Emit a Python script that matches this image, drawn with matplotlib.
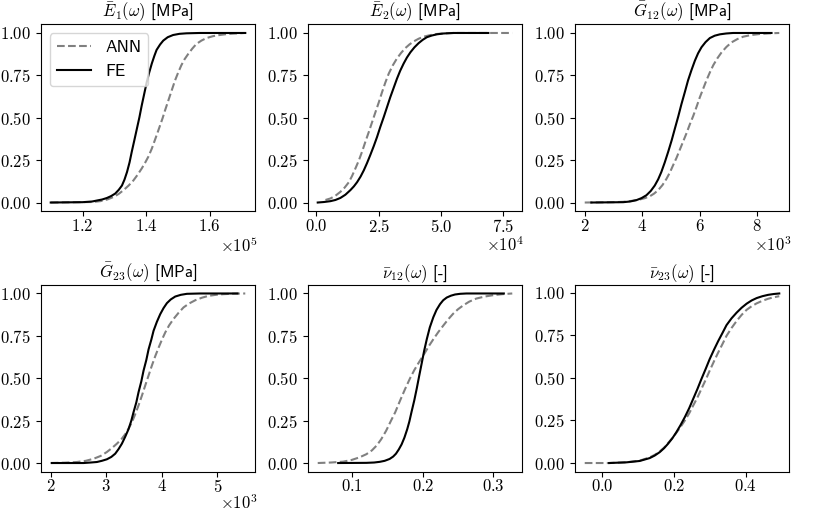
import numpy as np
import matplotlib
matplotlib.use('Agg')
import matplotlib.pyplot as plt
from matplotlib.ticker import ScalarFormatter

# ---------------- data ----------------
# E1 (x in units of 1e5 MPa)
E1_fe_x = [1.100, 1.200, 1.230, 1.246, 1.262, 1.277, 1.290, 1.303, 1.314, 1.324, 1.332, 1.340, 1.348, 1.355,
           1.363, 1.371, 1.379, 1.386, 1.394, 1.402, 1.410, 1.418, 1.426, 1.433, 1.444, 1.454, 1.468, 1.485,
           1.505, 1.527, 1.569, 1.712]
E1_fe_y = [0.000, 0.002, 0.006, 0.012, 0.018, 0.027, 0.038, 0.053, 0.075, 0.100, 0.135, 0.180, 0.237, 0.300,
           0.367, 0.435, 0.503, 0.570, 0.640, 0.710, 0.768, 0.820, 0.865, 0.900, 0.932, 0.955, 0.975, 0.988,
           0.995, 0.998, 1.000, 1.000]
E1_ann_x = [1.100, 1.230, 1.256, 1.278, 1.298, 1.314, 1.329, 1.345, 1.360, 1.373, 1.386, 1.397, 1.407, 1.418,
            1.428, 1.436, 1.444, 1.452, 1.459, 1.467, 1.475, 1.483, 1.491, 1.501, 1.511, 1.521, 1.532, 1.545,
            1.558, 1.574, 1.590, 1.610, 1.631, 1.652, 1.673, 1.709]
E1_ann_y = [0.000, 0.003, 0.008, 0.018, 0.033, 0.051, 0.073, 0.100, 0.130, 0.163, 0.200, 0.235, 0.270, 0.318,
            0.370, 0.412, 0.455, 0.498, 0.540, 0.585, 0.630, 0.675, 0.720, 0.767, 0.810, 0.845, 0.875, 0.907,
            0.935, 0.955, 0.970, 0.981, 0.988, 0.993, 0.996, 1.000]

# E2 (x in units of 1e4 MPa)
E2_fe_x = [0.05, 0.30, 0.56, 0.76, 0.96, 1.16, 1.36, 1.50, 1.63, 1.77, 1.90, 2.03, 2.16, 2.30, 2.43, 2.56, 2.70,
           2.83, 2.96, 3.10, 3.23, 3.36, 3.50, 3.63, 3.77, 3.93, 4.10, 4.26, 4.43, 4.63, 4.83, 5.10, 5.50, 6.90]
E2_fe_y = [0.000, 0.003, 0.008, 0.015, 0.027, 0.046, 0.073, 0.095, 0.120, 0.153, 0.190, 0.233, 0.280, 0.333,
           0.386, 0.445, 0.504, 0.562, 0.620, 0.677, 0.730, 0.777, 0.820, 0.855, 0.886, 0.915, 0.940, 0.959,
           0.975, 0.985, 0.992, 0.997, 1.000, 1.000]
E2_ann_x = [0.36, 0.56, 0.76, 0.96, 1.13, 1.30, 1.43, 1.56, 1.70, 1.83, 1.96, 2.10, 2.23, 2.36, 2.50, 2.63, 2.76,
            2.90, 3.06, 3.23, 3.40, 3.56, 3.73, 3.90, 4.10, 4.30, 4.55, 4.83, 5.15, 5.50, 7.86]
E2_ann_y = [0.015, 0.024, 0.040, 0.063, 0.088, 0.120, 0.157, 0.200, 0.248, 0.300, 0.357, 0.416, 0.473, 0.530,
            0.590, 0.650, 0.706, 0.760, 0.808, 0.850, 0.883, 0.910, 0.932, 0.950, 0.966, 0.978, 0.987, 0.994,
            0.998, 1.000, 1.000]

# G12 (x in units of 1e3 MPa)
G12_fe_x = [2.23, 3.34, 3.58, 3.80, 3.98, 4.15, 4.30, 4.44, 4.56, 4.67, 4.79, 4.91, 5.03, 5.14, 5.26, 5.37, 5.49,
            5.60, 5.72, 5.84, 5.95, 6.07, 6.21, 6.36, 6.53, 6.71, 6.93, 7.17, 8.51]
G12_fe_y = [0.000, 0.002, 0.006, 0.014, 0.026, 0.043, 0.068, 0.100, 0.137, 0.180, 0.237, 0.300, 0.367, 0.435,
            0.508, 0.580, 0.652, 0.720, 0.781, 0.837, 0.880, 0.916, 0.946, 0.970, 0.984, 0.992, 0.997, 1.000,
            1.000]
G12_ann_x = [2.00, 3.00, 3.34, 3.65, 3.92, 4.10, 4.27, 4.42, 4.56, 4.71, 4.85, 4.97, 5.08, 5.20, 5.31, 5.43, 5.55,
             5.66, 5.78, 5.90, 6.01, 6.13, 6.24, 6.36, 6.48, 6.62, 6.77, 6.94, 7.12, 7.32, 7.52, 7.80, 8.10, 8.45,
             8.78]
G12_ann_y = [0.000, 0.002, 0.004, 0.010, 0.018, 0.026, 0.037, 0.053, 0.073, 0.103, 0.140, 0.178, 0.220, 0.264,
             0.310, 0.360, 0.410, 0.460, 0.510, 0.566, 0.620, 0.672, 0.720, 0.767, 0.810, 0.850, 0.886, 0.918,
             0.945, 0.964, 0.978, 0.988, 0.994, 0.998, 1.000]

# G23 (x in units of 1e3 MPa)
G23_fe_x = [2.02, 2.59, 2.72, 2.83, 2.92, 3.01, 3.09, 3.16, 3.22, 3.28, 3.34, 3.40, 3.45, 3.49, 3.54, 3.58, 3.63,
            3.67, 3.72, 3.76, 3.81, 3.85, 3.91, 3.97, 4.03, 4.09, 4.16, 4.24, 4.34, 4.45, 4.69, 5.36]
G23_fe_y = [0.000, 0.000, 0.003, 0.006, 0.013, 0.022, 0.036, 0.055, 0.082, 0.114, 0.155, 0.200, 0.250, 0.300,
            0.358, 0.418, 0.482, 0.545, 0.608, 0.670, 0.728, 0.780, 0.833, 0.878, 0.914, 0.943, 0.965, 0.982,
            0.992, 0.998, 1.000, 1.000]
G23_ann_x = [2.00, 2.25, 2.47, 2.63, 2.77, 2.90, 3.01, 3.10, 3.19, 3.27, 3.34, 3.40, 3.46, 3.52, 3.58, 3.64, 3.70,
             3.76, 3.82, 3.88, 3.94, 4.00, 4.06, 4.13, 4.21, 4.30, 4.39, 4.49, 4.60, 4.72, 4.84, 4.97, 5.11, 5.30,
             5.50]
G23_ann_y = [0.000, 0.002, 0.006, 0.013, 0.025, 0.042, 0.065, 0.088, 0.114, 0.140, 0.170, 0.203, 0.240, 0.288,
             0.340, 0.397, 0.457, 0.516, 0.575, 0.630, 0.680, 0.727, 0.770, 0.812, 0.850, 0.886, 0.918, 0.941,
             0.960, 0.975, 0.986, 0.992, 0.996, 0.999, 1.000]

# nu12 (dimensionless)
nu12_fe_x = [0.080, 0.120, 0.131, 0.139, 0.146, 0.153, 0.158, 0.162, 0.166, 0.170, 0.174, 0.178, 0.181, 0.184,
             0.188, 0.1915, 0.195, 0.1986, 0.202, 0.2057, 0.210, 0.215, 0.2195, 0.2245, 0.229, 0.234, 0.240,
             0.2458, 0.253, 0.262, 0.315]
nu12_fe_y = [0.000, 0.001, 0.003, 0.007, 0.013, 0.024, 0.038, 0.055, 0.080, 0.110, 0.150, 0.200, 0.245, 0.300,
             0.370, 0.440, 0.515, 0.590, 0.662, 0.730, 0.800, 0.860, 0.903, 0.937, 0.960, 0.976, 0.987, 0.994,
             0.998, 1.000, 1.000]
nu12_ann_x = [0.051, 0.070, 0.087, 0.099, 0.110, 0.120, 0.128, 0.135, 0.141, 0.148, 0.155, 0.161, 0.168, 0.175,
              0.182, 0.188, 0.194, 0.203, 0.209, 0.215, 0.222, 0.229, 0.236, 0.243, 0.250, 0.2575, 0.266, 0.276,
              0.288, 0.300, 0.313, 0.327]
nu12_ann_y = [0.000, 0.003, 0.008, 0.018, 0.033, 0.052, 0.075, 0.105, 0.140, 0.190, 0.250, 0.300, 0.370, 0.437,
              0.500, 0.548, 0.590, 0.650, 0.692, 0.730, 0.772, 0.810, 0.847, 0.880, 0.907, 0.930, 0.952, 0.970,
              0.982, 0.990, 0.996, 1.000]

# nu23 (dimensionless)
nu23_fe_x = [0.020, 0.068, 0.105, 0.133, 0.147, 0.161, 0.173, 0.184, 0.196, 0.207, 0.219, 0.231, 0.243, 0.254,
             0.266, 0.277, 0.289, 0.300, 0.312, 0.324, 0.336, 0.347, 0.361, 0.375, 0.389, 0.403, 0.417, 0.431,
             0.447, 0.463, 0.479, 0.494]
nu23_fe_y = [0.000, 0.004, 0.012, 0.029, 0.044, 0.064, 0.087, 0.113, 0.145, 0.180, 0.223, 0.270, 0.322, 0.376,
             0.435, 0.493, 0.553, 0.610, 0.665, 0.717, 0.765, 0.810, 0.850, 0.883, 0.912, 0.936, 0.955, 0.969,
             0.980, 0.988, 0.993, 0.996]
nu23_ann_x = [-0.048, 0.020, 0.068, 0.105, 0.133, 0.147, 0.161, 0.173, 0.184, 0.196, 0.207, 0.219, 0.231, 0.243,
              0.254, 0.266, 0.277, 0.289, 0.300, 0.312, 0.324, 0.336, 0.347, 0.361, 0.375, 0.389, 0.403, 0.417,
              0.431, 0.447, 0.463, 0.479, 0.494]
nu23_ann_y = [0.000, 0.000, 0.004, 0.014, 0.033, 0.048, 0.068, 0.090, 0.117, 0.146, 0.177, 0.212, 0.250, 0.292,
              0.337, 0.385, 0.435, 0.489, 0.542, 0.597, 0.650, 0.700, 0.747, 0.793, 0.834, 0.870, 0.900, 0.921,
              0.938, 0.953, 0.965, 0.974, 0.980]

titles = [r'$\bar{E}_1(\omega)$ [MPa]', r'$\bar{E}_2(\omega)$ [MPa]', r'$\bar{G}_{12}(\omega)$ [MPa]',
          r'$\bar{G}_{23}(\omega)$ [MPa]', r'$\bar{\nu}_{12}(\omega)$ [-]', r'$\bar{\nu}_{23}(\omega)$ [-]']
x_exps = [5, 4, 3, 3, 0, 0]
x_ticks = [[1.2, 1.4, 1.6], [0.0, 2.5, 5.0, 7.5], [2, 4, 6, 8], [2, 3, 4, 5], [0.1, 0.2, 0.3], [0.0, 0.2, 0.4]]
y_ticks = [0.0, 0.25, 0.5, 0.75, 1.0]
series = [
    (E1_ann_x, E1_ann_y, E1_fe_x, E1_fe_y),
    (E2_ann_x, E2_ann_y, E2_fe_x, E2_fe_y),
    (G12_ann_x, G12_ann_y, G12_fe_x, G12_fe_y),
    (G23_ann_x, G23_ann_y, G23_fe_x, G23_fe_y),
    (nu12_ann_x, nu12_ann_y, nu12_fe_x, nu12_fe_y),
    (nu23_ann_x, nu23_ann_y, nu23_fe_x, nu23_fe_y),
]

# ---------------- style ----------------
plt.rcParams['mathtext.fontset'] = 'cm'
plt.rcParams['axes.formatter.use_mathtext'] = True
plt.rcParams['font.family'] = ['cmss10', 'DejaVu Sans']

W, H = 830, 513
fig = plt.figure(figsize=(W / 100, H / 100), dpi=100)

lefts = [41, 308, 575]
tops = [24.5, 285]
offset_y = [-0.13, -0.118]
ax_w, ax_h = 214, 186.5

for i, (ax_x, ax_y, fe_x, fe_y) in enumerate(series):
    r, c = divmod(i, 3)
    l = lefts[c] / W
    b = 1 - (tops[r] + ax_h) / H
    ax = fig.add_axes([l, b, ax_w / W, ax_h / H])
    s = 10.0 ** x_exps[i]
    ax.plot(np.array(ax_x) * s, ax_y, color='grey', linestyle='--', linewidth=1.5, label='ANN')
    ax.plot(np.array(fe_x) * s, fe_y, color='black', linestyle='-', linewidth=1.5, label='FE')
    ax.set_xticks(np.array(x_ticks[i]) * s)
    ax.set_yticks(y_ticks)
    fmt = ScalarFormatter(useMathText=True)
    fmt.set_powerlimits((-3, 3))
    ax.xaxis.set_major_formatter(fmt)
    ax.yaxis.set_major_formatter(ScalarFormatter(useMathText=True))
    ax.tick_params(labelsize=12, labelfontfamily='cmr10')
    ax.tick_params(axis='x', pad=1.5)
    ax.xaxis.get_offset_text().set_visible(False)
    if x_exps[i] != 0:
        ax.text(1.01, offset_y[r], r'$\times10^{%d}$' % x_exps[i], transform=ax.transAxes,
                ha='right', va='top', fontsize=12)
    ax.set_title(titles[i], fontsize=12, pad=2)
    if i == 0:
        ax.legend(loc='upper left', prop={'family': 'cmss10', 'size': 12.5})

fig.savefig('out.png', dpi=100)
